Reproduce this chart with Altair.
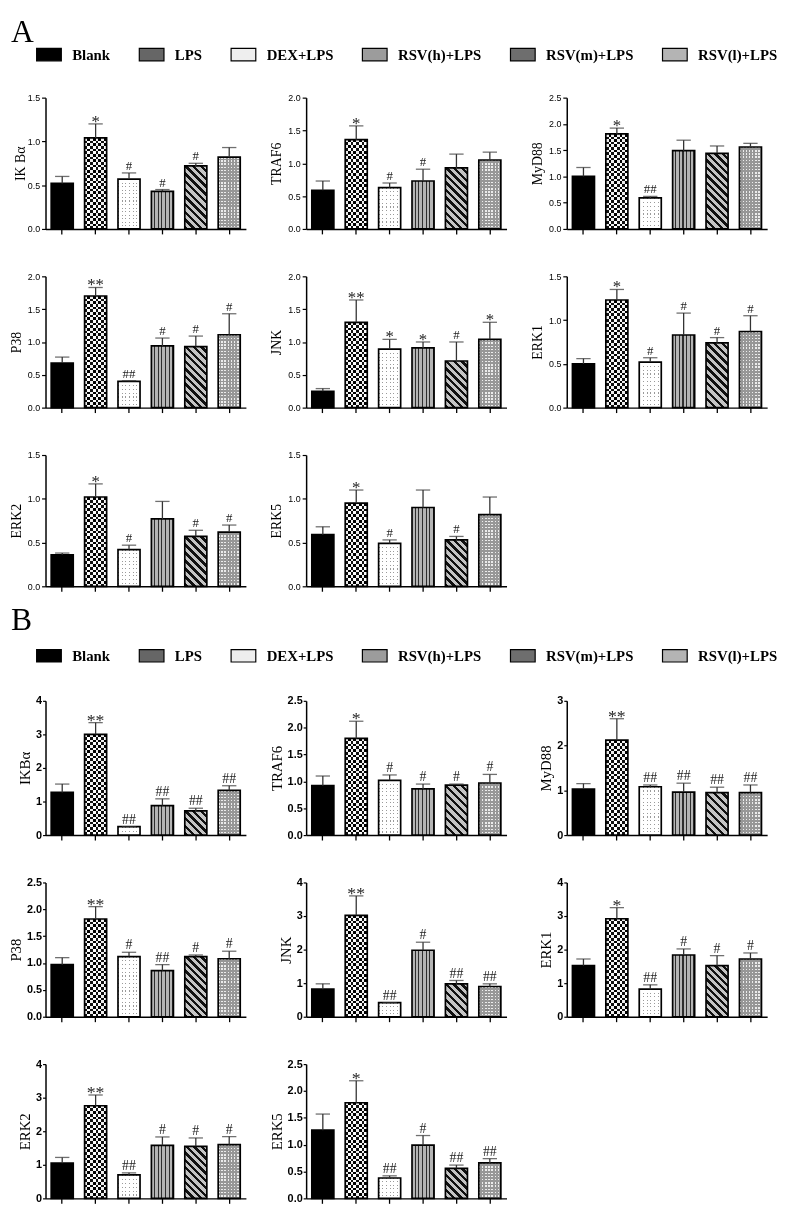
import math
import altair as alt
import pandas as pd

groups = ["Blank", "LPS", "DEX+LPS", "RSV(h)+LPS", "RSV(m)+LPS", "RSV(l)+LPS"]
gene_rows = [["IKBa", "TRAF6", "MyD88"], ["P38", "JNK", "ERK1"], ["ERK2", "ERK5"]]

A_title = {"IKBa": "IK Bα", "TRAF6": "TRAF6", "MyD88": "MyD88", "P38": "P38",
           "JNK": "JNK", "ERK1": "ERK1", "ERK2": "ERK2", "ERK5": "ERK5"}
B_title = dict(A_title, IKBa="IKBα")

# ---- Section A ----
A_mean = {
    "IKBa": [0.52, 1.04, 0.57, 0.43, 0.72, 0.82],
    "TRAF6": [0.59, 1.36, 0.63, 0.73, 0.93, 1.05],
    "MyD88": [1.00, 1.81, 0.59, 1.49, 1.44, 1.56],
    "P38": [0.68, 1.70, 0.40, 0.94, 0.93, 1.11],
    "JNK": [0.25, 1.30, 0.89, 0.91, 0.71, 1.04],
    "ERK1": [0.50, 1.23, 0.52, 0.83, 0.74, 0.87],
    "ERK2": [0.36, 1.02, 0.42, 0.77, 0.57, 0.62],
    "ERK5": [0.59, 0.95, 0.49, 0.90, 0.53, 0.82],
}
A_upper = {
    "IKBa": [0.60, 1.20, 0.64, 0.45, 0.75, 0.93],
    "TRAF6": [0.73, 1.57, 0.70, 0.91, 1.14, 1.17],
    "MyD88": [1.17, 1.92, 0.62, 1.69, 1.58, 1.63],
    "P38": [0.77, 1.83, 0.41, 1.06, 1.09, 1.43],
    "JNK": [0.29, 1.64, 1.04, 1.00, 1.00, 1.30],
    "ERK1": [0.56, 1.35, 0.57, 1.08, 0.80, 1.05],
    "ERK2": [0.38, 1.17, 0.47, 0.97, 0.64, 0.70],
    "ERK5": [0.68, 1.10, 0.53, 1.10, 0.57, 1.02],
}
A_sig = {
    "IKBa": ["", "*", "#", "#", "#", ""],
    "TRAF6": ["", "*", "#", "#", "", ""],
    "MyD88": ["", "*", "##", "", "", ""],
    "P38": ["", "**", "##", "#", "#", "#"],
    "JNK": ["", "**", "*", "*", "#", "*"],
    "ERK1": ["", "*", "#", "#", "#", "#"],
    "ERK2": ["", "*", "#", "", "#", "#"],
    "ERK5": ["", "*", "#", "", "#", ""],
}
A_ymax = {"IKBa": 1.5, "TRAF6": 2.0, "MyD88": 2.5, "P38": 2.0,
          "JNK": 2.0, "ERK1": 1.5, "ERK2": 1.5, "ERK5": 1.5}
A_step = {g: 0.5 for g in A_ymax}

# ---- Section B ----
B_mean = {
    "IKBa": [1.27, 3.00, 0.25, 0.88, 0.72, 1.33],
    "TRAF6": [0.92, 1.80, 1.02, 0.86, 0.93, 0.97],
    "MyD88": [1.03, 2.12, 1.08, 0.96, 0.95, 0.95],
    "P38": [0.97, 1.82, 1.12, 0.86, 1.12, 1.08],
    "JNK": [0.82, 3.02, 0.42, 1.98, 0.98, 0.90],
    "ERK1": [1.52, 2.92, 0.82, 1.84, 1.52, 1.72],
    "ERK2": [1.05, 2.76, 0.70, 1.58, 1.55, 1.60],
    "ERK5": [1.27, 1.78, 0.38, 0.99, 0.56, 0.66],
}
B_upper = {
    "IKBa": [1.52, 3.35, 0.25, 1.08, 0.80, 1.47],
    "TRAF6": [1.10, 2.12, 1.12, 0.95, 0.95, 1.13],
    "MyD88": [1.15, 2.60, 1.12, 1.16, 1.07, 1.12],
    "P38": [1.10, 2.05, 1.20, 0.97, 1.15, 1.22],
    "JNK": [0.98, 3.60, 0.42, 2.22, 1.08, 0.98],
    "ERK1": [1.72, 3.25, 0.95, 2.02, 1.82, 1.90],
    "ERK2": [1.22, 3.08, 0.76, 1.83, 1.80, 1.84],
    "ERK5": [1.57, 2.19, 0.42, 1.17, 0.62, 0.74],
}
B_sig = {
    "IKBa": ["", "**", "##", "##", "##", "##"],
    "TRAF6": ["", "*", "#", "#", "#", "#"],
    "MyD88": ["", "**", "##", "##", "##", "##"],
    "P38": ["", "**", "#", "##", "#", "#"],
    "JNK": ["", "**", "##", "#", "##", "##"],
    "ERK1": ["", "*", "##", "#", "#", "#"],
    "ERK2": ["", "**", "##", "#", "#", "#"],
    "ERK5": ["", "*", "##", "#", "##", "##"],
}
B_ymax = {"IKBa": 4, "TRAF6": 2.5, "MyD88": 3, "P38": 2.5,
          "JNK": 4, "ERK1": 4, "ERK2": 4, "ERK5": 2.5}
B_step = {"IKBa": 1, "TRAF6": 0.5, "MyD88": 1, "P38": 0.5,
          "JNK": 1, "ERK1": 1, "ERK2": 1, "ERK5": 0.5}

legend_colors = ["#000000", "#666666", "#eeeeee", "#9c9c9c", "#6e6e6e", "#b4b4b4"]
CLEAR = "rgba(255,255,255,0)"


def stripe_stops(n, on, off, duty):
    stops = []
    for i in range(n):
        a = round(i / n, 5)
        b = round((i + duty) / n, 5)
        c = round((i + 1) / n, 5)
        stops += [alt.GradientStop(offset=a, color=on), alt.GradientStop(offset=b, color=on),
                  alt.GradientStop(offset=b, color=off), alt.GradientStop(offset=c, color=off)]
    return stops


def vstripes(n, on, off, duty):
    return alt.LinearGradient(gradient="linear", stops=stripe_stops(n, on, off, duty),
                              x1=0, y1=0, x2=1, y2=0)


def hstripes(n, on, off, duty):
    return alt.LinearGradient(gradient="linear", stops=stripe_stops(n, on, off, duty),
                              x1=0, y1=0, x2=0, y2=1)


def diag(w, h, period, on, off, duty):
    k = (w + h) / (w * w + h * h)
    L = (w + h) / math.sqrt(2)
    n = max(1, int(round(L / period)))
    return alt.LinearGradient(gradient="linear", stops=stripe_stops(n, on, off, duty),
                              x1=0, y1=1, x2=round(k * w, 5), y2=round(1 - k * h, 5))


def nper(h, p):
    return max(1, int(round(h / p)))


def panel(mean, upper, sig, ymax, step, title, tpad, sty):
    W, H = sty["W"], sty["H"]
    df = pd.DataFrame({"group": groups, "mean": mean, "upper": upper, "sig": sig})
    nt = int(round(ymax / step))
    vals = [round(i * step, 2) for i in range(nt + 1)]
    fmt = "d" if step >= 1 else ".1f"
    xenc = alt.X("group:N",
                 scale=alt.Scale(domain=groups, paddingInner=0.34, paddingOuter=0.17),
                 axis=alt.Axis(labels=False, title=None, domainColor="black", domainWidth=1.5,
                               tickColor="black", tickWidth=1.3, tickSize=5, grid=False))
    yaxis = alt.Axis(values=vals, format=fmt, title=title, titleFont="Liberation Serif",
                     titleFontSize=sty["tfs"], titleFontWeight="normal", titleColor="black",
                     titlePadding=tpad, labelFont="Liberation Sans", labelFontSize=sty["lfs"],
                     labelFontWeight=sty["lfw"], labelColor="black", labelPadding=sty["lpad"],
                     tickSize=sty["ts"], tickColor="black", tickWidth=1.2,
                     domainColor="black", domainWidth=1.5, grid=False)
    yscale = alt.Scale(domain=[0, ymax], nice=False, zero=True)
    ym = alt.Y("mean:Q", scale=yscale, axis=yaxis)
    yu = alt.Y("upper:Q", scale=yscale, axis=yaxis)

    bw = W / 6 * 0.66
    hpx = [max(v / ymax * H, 0.5) for v in mean]

    def bar(i, fill, **kw):
        return alt.Chart(df.iloc[[i]]).mark_bar(fill=fill, **kw).encode(x=xenc, y=ym)

    layers = [
        bar(0, "#000000"),
        bar(1, vstripes(4, "#111111", "#ffffff", 0.5)),
        bar(1, hstripes(nper(hpx[1], 5.5), "#ffffff", CLEAR, 0.5), blend="difference"),
        bar(2, vstripes(6, "#9a9a9a", "#ffffff", 0.3)),
        bar(2, hstripes(nper(hpx[2], 3.7), CLEAR, "#ffffff", 0.3)),
        bar(3, vstripes(6, "#b4b4b4", "#2e2e2e", 0.68)),
        bar(4, diag(bw, hpx[4], 5.5, "#111111", "#c4c4c4", 0.45)),
        bar(5, vstripes(7, "#ececec", "#979797", 0.45)),
        bar(5, hstripes(nper(hpx[5], 3.2), CLEAR, "#979797", 0.45)),
        alt.Chart(df).mark_bar(fillOpacity=0, stroke="black", strokeWidth=1.7).encode(x=xenc, y=ym),
        alt.Chart(df).mark_rule(color="#333333", strokeWidth=1.3).encode(x=xenc, y=ym, y2="upper:Q"),
        alt.Chart(df).mark_tick(orient="horizontal", color="#333333", thickness=1.3,
                                size=round(bw * 0.65, 2)).encode(x=xenc, y=yu),
    ]
    star = df[df["sig"].str.contains(r"\*")]
    hsh = df[df["sig"].str.contains("#")]
    if len(star):
        layers.append(alt.Chart(star).mark_text(baseline="alphabetic", dy=3, font="Liberation Serif",
                                                fontSize=sty["sfs"], color="#222222")
                      .encode(x=xenc, y=yu, text="sig:N"))
    if len(hsh):
        layers.append(alt.Chart(hsh).mark_text(baseline="alphabetic", dy=-3, font="Liberation Serif",
                                               fontSize=sty["afs"], color="#222222")
                      .encode(x=xenc, y=yu, text="sig:N"))
    return alt.layer(*layers).properties(width=W, height=H)


def header(label, text_y, legend_y, W, H):
    ldf = pd.DataFrame({"group": groups})
    leg = alt.Chart(ldf).mark_bar(opacity=0).encode(
        fill=alt.Fill("group:N", scale=alt.Scale(domain=groups, range=legend_colors),
                      legend=alt.Legend(orient="none", legendX=-10, legendY=legend_y,
                                        direction="horizontal", title=None,
                                        symbolType="M-1,-0.5H1V0.5H-1Z", symbolSize=625,
                                        symbolStrokeColor="black", symbolStrokeWidth=1.2,
                                        symbolOpacity=1, labelFont="Liberation Serif",
                                        labelFontSize=15, labelFontWeight="bold",
                                        labelColor="black", labelOffset=10, columnPadding=26)))
    txt = alt.Chart(pd.DataFrame({"lab": [label]})).mark_text(
        align="left", baseline="top", font="Liberation Serif", fontSize=32, color="black"
    ).encode(text="lab:N", x=alt.value(-35), y=alt.value(text_y))
    return alt.layer(leg, txt).properties(width=W, height=H)


def blank(W, H):
    return alt.Chart(pd.DataFrame({"v": [0]})).mark_point(opacity=0).encode(
        x=alt.value(0), y=alt.value(0)).properties(width=W, height=H)


PW = 203
STY_A = dict(W=PW, H=133, tfs=14, lfs=9, lfw="normal", lpad=2, ts=4, afs=13, sfs=17)
STY_B = dict(W=PW, H=136, tfs=15, lfs=11, lfw="bold", lpad=1, ts=3, afs=14, sfs=18)

cells = [header("A", -13, 10.5, PW, 20), blank(PW, 5), blank(PW, 5)]
for row in gene_rows:
    for g in row:
        cells.append(panel(A_mean[g], A_upper[g], A_sig[g], A_ymax[g], A_step[g], A_title[g],
                           0 if g == "IKBa" else 4, STY_A))
cells.append(blank(PW, 5))
cells += [header("B", -29, 8.5, PW, 20), blank(PW, 5), blank(PW, 5)]
for row in gene_rows:
    for g in row:
        cells.append(panel(B_mean[g], B_upper[g], B_sig[g], B_ymax[g], B_step[g], B_title[g],
                           3, STY_B))

chart = alt.concat(*cells, columns=3, spacing={"row": 48, "column": 61}, bounds="flush") \
    .resolve_scale(fill="independent").resolve_legend(fill="independent") \
    .properties(padding={"left": 0, "top": 0, "right": 0, "bottom": 0}, background="white") \
    .configure_view(stroke="transparent")

chart.save("out.html", embed_options={"renderer": "svg", "actions": False})
